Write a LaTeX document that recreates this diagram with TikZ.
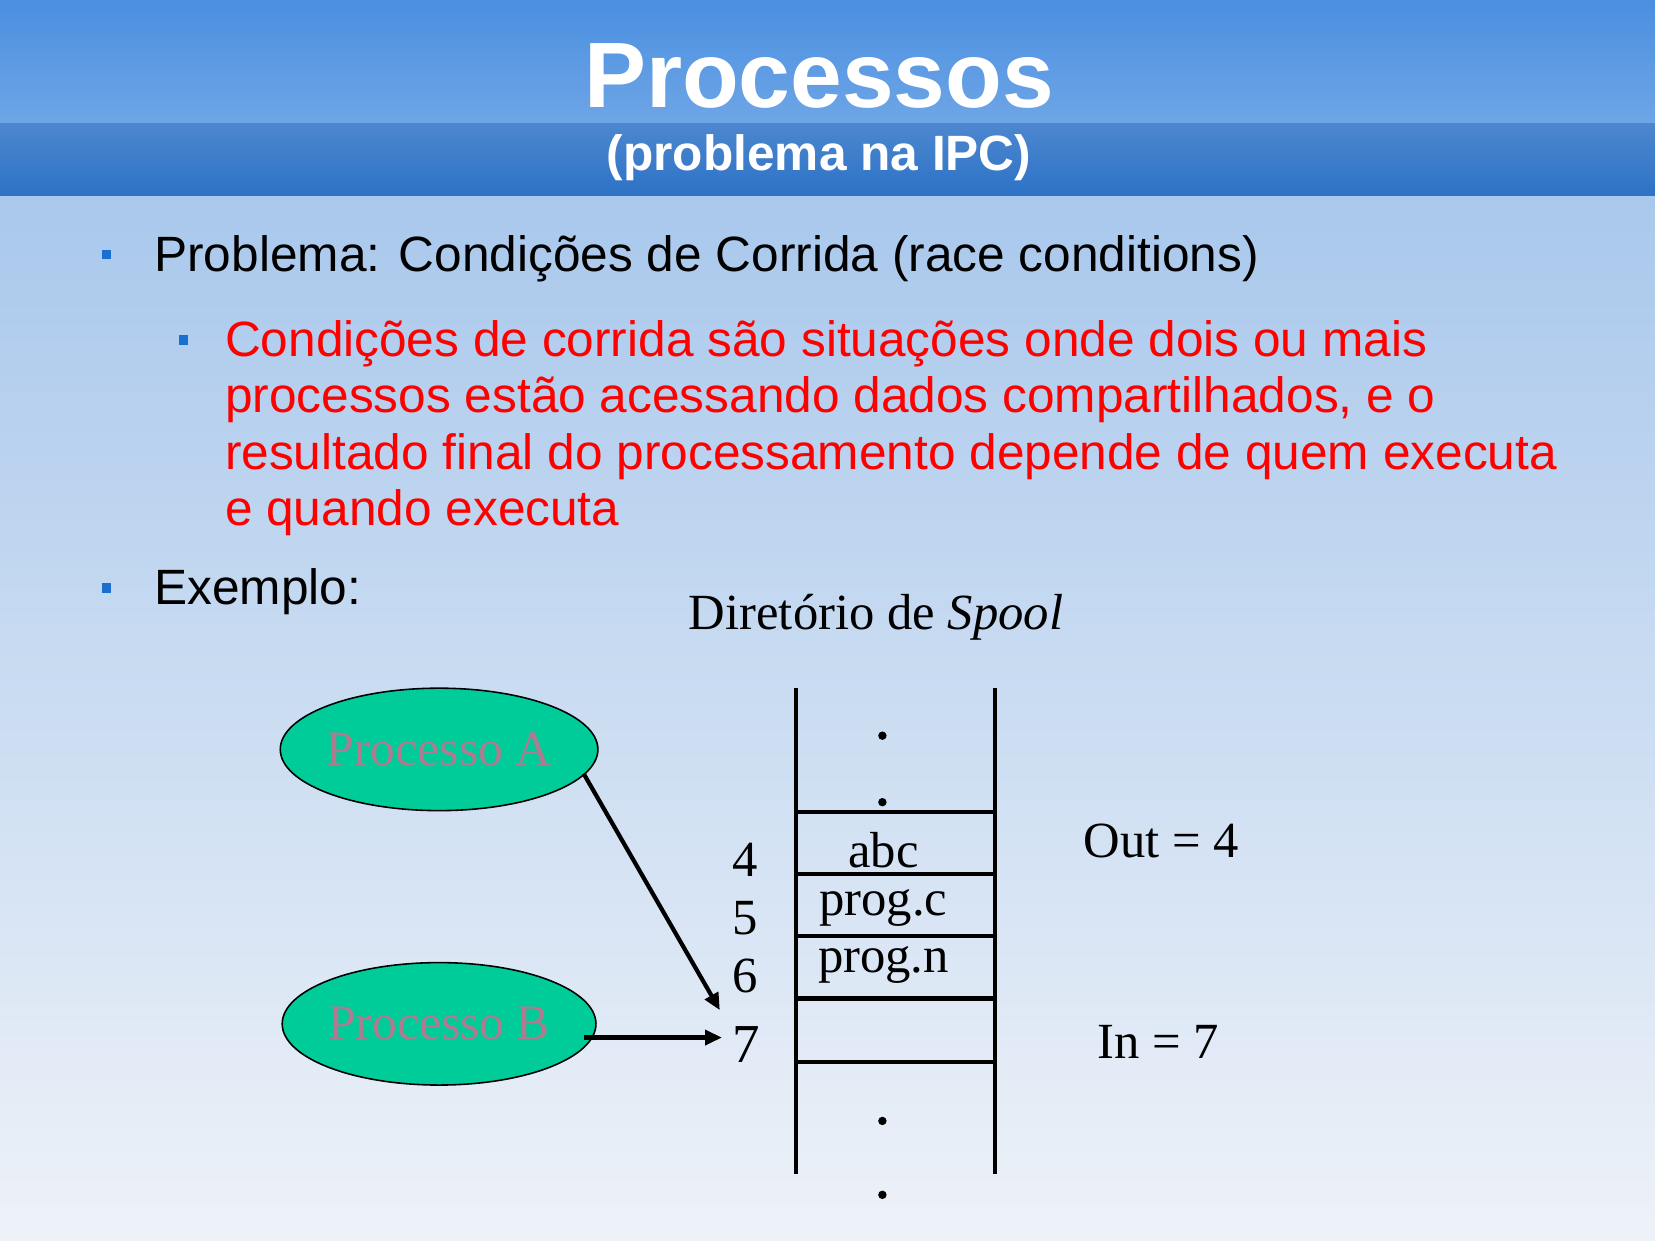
\documentclass[tikz,border=0pt]{standalone}
\usepackage{fontspec}
\setmainfont{Liberation Sans}
\newfontfamily\serif{Liberation Serif}
\usetikzlibrary{shapes.geometric,arrows.meta}
\definecolor{bar}{HTML}{2D72C6}
\definecolor{barl}{HTML}{4A8FE0}
\definecolor{bgtop}{HTML}{A9C8EC}
\definecolor{bgbot}{HTML}{EEF2F8}
\definecolor{bul}{HTML}{1A6FD0}
\definecolor{ell}{HTML}{00CC99}
\definecolor{ptxt}{HTML}{B07A90}
\begin{document}
\begin{tikzpicture}[x=1pt,y=-1pt,
  bulsq/.style={fill=bul,minimum size=9pt,inner sep=0pt},
  txt/.style={anchor=base west,inner sep=0pt,font=\fontsize{47}{53.5}\selectfont},
  ser/.style={inner sep=0pt,font=\serif\fontsize{48}{52}\selectfont},
  proc/.style={ellipse,draw=black,line width=1.5pt,fill=ell,inner sep=0pt,minimum width=272pt,minimum height=116pt,text=ptxt,font=\serif\fontsize{47}{52}\selectfont},
  wall/.style={line width=4pt},
  arr/.style={line width=4pt,-{Triangle[length=16pt,width=14pt]}}]
\useasboundingbox (0,0) rectangle (1568,1175);
\shade[top color=bgtop,bottom color=bgbot] (0,185) rectangle (1568,1175);
\shade[top color=barl,bottom color=barl!80!white] (0,0) rectangle (1568,117);
\shade[top color=bar!85!white,bottom color=bar] (0,117) rectangle (1568,185);
\node[text=white,font=\bfseries\fontsize{88}{90}\selectfont,anchor=base] (title) at (776,102) {Processos};
\node[text=white,font=\bfseries\fontsize{47}{50}\selectfont,anchor=base] (sub) at (776,162) {(problema na IPC)};
\node[bulsq] (b1) at (101,241) {};
\node[txt] (t1) at (146,257) {Problema: Condições de Corrida (race conditions)};
\node[bulsq] (b2) at (174,322) {};
\node[txt,text=red,align=left,anchor=base west] (t2) at (213,498) {Condições de corrida são situações onde dois ou mais\\processos estão acessando dados compartilhados, e o\\resultado final do processamento depende de quem executa\\e quando executa};
\node[bulsq] (b3) at (101,557) {};
\node[txt] (t3) at (146,573) {Exemplo:};
\node[ser] (dir) at (830,585) {Diretório de \textit{Spool}};
\node[proc] (pa) at (416,710) {Processo A};
\node[proc] (pb) at (416,970) {Processo B};
\coordinate (l1) at (754,652); \coordinate (l2) at (754,1112);
\coordinate (r1) at (943,652); \coordinate (r2) at (943,1112);
\draw[wall] (l1) -- (l2); \draw[wall] (r1) -- (r2);
\foreach \y in {769,828,887,946,1006} \draw[wall] (754,\y) -- (943,\y);
\foreach \y in {697,760,1062,1132} \fill (836,\y) circle (4pt);
\node[ser] (n4) at (706,815) {4};
\node[ser] (n5) at (706,870) {5};
\node[ser] (n6) at (706,925) {6};
\node[ser,font=\serif\fontsize{52}{54}\selectfont] (n7) at (707,990) {7};
\node[ser] (c4) at (837,805) {abc};
\node[ser] (c5) at (837,860) {prog.c};
\node[ser] (c6) at (837,914) {prog.n};
\node[ser] (out) at (1100,797) {Out = 4};
\node[ser] (in) at (1097,987) {In = 7};
\coordinate (sa) at (553,733);
\coordinate (ta) at (682,957);
\coordinate (sb) at (553,983);
\coordinate (tb) at (684,983);
\draw[arr] (sa) -- (ta);
\draw[arr] (sb) -- (tb);
\end{tikzpicture}
\end{document}
